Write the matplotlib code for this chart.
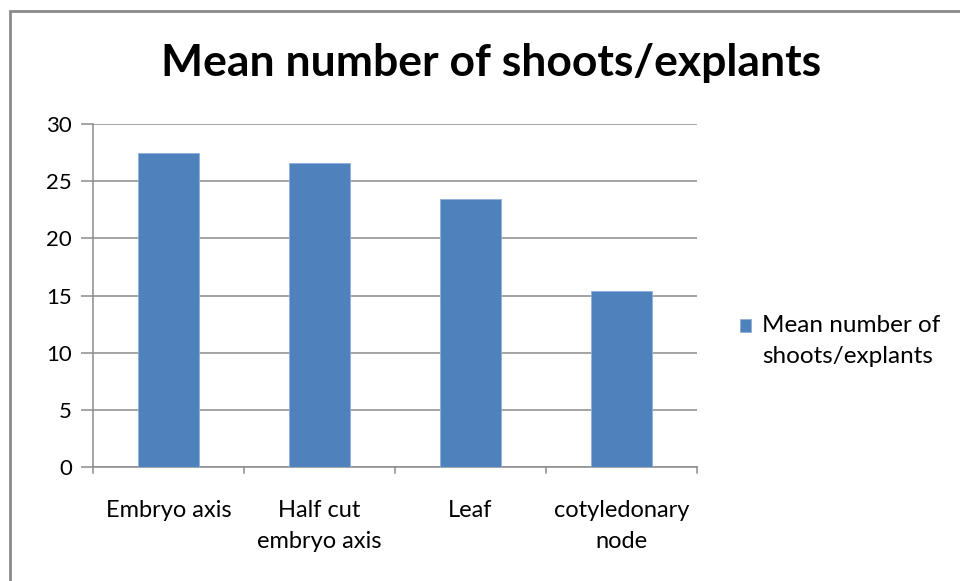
import matplotlib

matplotlib.use("Agg")

import matplotlib.pyplot as plt
from matplotlib.patches import Rectangle

categories = ["Embryo axis", "Half cut\nembryo axis", "Leaf", "cotyledonary\nnode"]
mean_shoots = [27.5, 26.6, 23.4, 15.4]
y_ticks = [0, 5, 10, 15, 20, 25, 30]
series_name = "Mean number of\nshoots/explants"
title = "Mean number of shoots/explants"

bar_color = "#4F81BD"
grid_color = "#8C8C8C"

plt.rcParams["font.family"] = ["Lato", "DejaVu Sans"]

fig = plt.figure(figsize=(9.6, 5.81), dpi=100)
ax = fig.add_axes([93 / 960, 1 - 467 / 581, (697 - 93) / 960, (467 - 124) / 581])

x = list(range(len(categories)))
ax.bar(x, mean_shoots, width=0.4, color=bar_color, zorder=3,
       edgecolor="#8EB0DA", linewidth=0.6, label=series_name)

ax.set_xlim(-0.5, len(categories) - 0.5)
ax.set_ylim(0, 30)
ax.set_yticks(y_ticks)
ax.set_yticklabels([str(v) for v in y_ticks], fontsize=16)
ax.yaxis.grid(True, color=grid_color, linewidth=1.1, zorder=0)

# category labels under the bars, ticks sit on the category boundaries
ax.set_xticks(x)
ax.set_xticklabels(categories, fontsize=17, linespacing=1.55)
ax.tick_params(axis="x", length=0, pad=24)
for b in [i - 0.5 for i in range(len(categories) + 1)]:
    ax.plot([b, b], [0, -0.55], color=grid_color, lw=1.1, clip_on=False)
ax.tick_params(axis="y", length=9, color=grid_color, width=1.1, pad=6)

for side in ["top", "right"]:
    ax.spines[side].set_visible(False)
for side in ["left", "bottom"]:
    ax.spines[side].set_color(grid_color)
    ax.spines[side].set_linewidth(1.1)

fig.text(491 / 960, 1 - 63 / 581, title, ha="center", va="center",
         fontsize=32, fontweight="bold")

leg = fig.legend(loc="center left", bbox_to_anchor=(718 / 960, 1 - 341 / 581),
                 frameon=False, fontsize=17.5, handlelength=0.45, handleheight=0.45,
                 handletextpad=0.45)
for t in leg.get_texts():
    t.set_linespacing(1.6)
# keep the marker next to the first line of the label
for h in leg.legend_handles:
    h.set_y(h.get_y() + 11)

# outer chart frame
fig.patches.append(Rectangle((10 / 960, -0.05), 1.0, 1 - 11 / 581 + 0.05,
                             transform=fig.transFigure, fill=False,
                             edgecolor="#8A8A8A", linewidth=2))

fig.savefig("out.png", dpi=100)
